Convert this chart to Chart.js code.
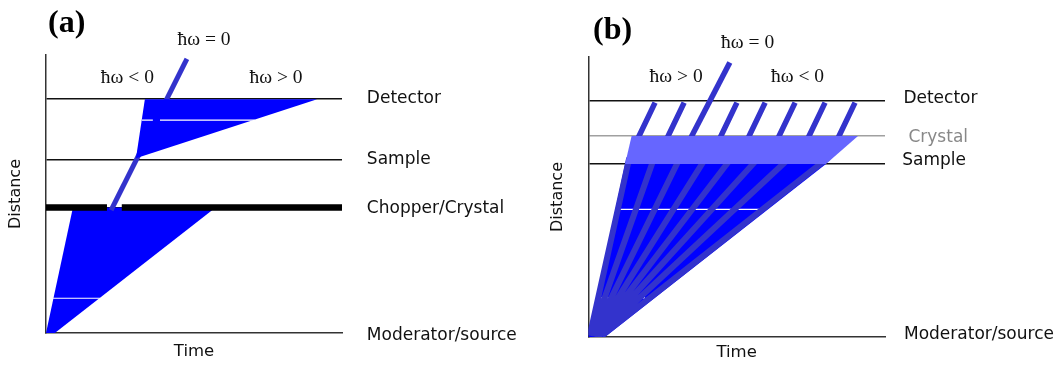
<!DOCTYPE html>
<html>
<head>
<meta charset="utf-8">
<script src="https://cdn.jsdelivr.net/npm/chart.js@4.4.1/dist/chart.umd.min.js"></script>
<style>
  html, body { margin: 0; padding: 0; background: #fff; }
  #wrap { position: relative; width: 1060px; height: 367px; }
  #wrap canvas { position: absolute; top: 0; }
</style>
</head>
<body>
<div id="wrap">
  <canvas id="panelA" width="530" height="367" style="left:0"></canvas>
  <canvas id="panelB" width="530" height="367" style="left:530px"></canvas>
</div>
<script>
// --- shared look ---
const SANS = '"DejaVu Sans"';
const SERIF = '"Liberation Serif"';
const BLUE = '#0000ff';
const RAY = '#3333cc';
const BAND = '#6666ff';

// --- panel (a): direct geometry with a chopper ---
const aLevelNames = ['Moderator/source', 'Chopper/Crystal', 'Sample', 'Detector'];
const aLevels = [0, 4.51, 6.22, 8.41];
// incident pulse, moderator -> chopper
const aPulseT = [0, 0.91, 5.73, 0.30];
const aPulseD = [0, 4.51, 4.51, 0];
// scattered neutrons, sample -> detector
const aScatT = [3.04, 3.34, 9.16];
const aScatD = [6.29, 8.41, 8.41];
// elastic (hw = 0) path through the chopper opening
const aElasticT = [2.20, 4.76];
const aElasticD = [4.42, 9.86];
// chopper disc, open between the two pieces
const aChopperT = [0, 2.06, null, 2.56, 10];
// thin white stripes inside the blue areas
const aStripeLowT = [0.24, 1.82];
const aStripeLowD = 1.25;
const aStripeHighT = [3.24, 3.61, null, 3.85, 7.05];
const aStripeHighD = 7.66;

// --- panel (b): indirect geometry with an analyser crystal ---
const bLevelNames = ['Moderator/source', 'Sample', 'Crystal', 'Detector'];
const bLevels = [0, 6.20, 7.18, 8.43];
// white pulse fanning out from the moderator
const bFanT = [0, 1.24, 8.01, 0.56];
const bFanD = [0, 6.18, 6.18, 0];
const bRayStartT = [0.05, 0.10, 0.15, 0.20, 0.25, 0.30, 0.36, 0.46];
const bRayStartD = 0.05;
const bRayEndT = [1.38, 2.22, 3.09, 3.96, 4.83, 5.74, 6.79, 8.08];
const bRayEndD = 6.4;
// sample -> crystal band
const bBandT = [1.46, 9.09, 8.01, 1.24];
const bBandD = [7.18, 7.18, 6.18, 6.18];
// fixed final energy, crystal -> detector
const bFinalLowT = [1.63, 2.61, 4.39, 5.34, 6.35, 7.36, 8.37];
const bFinalLowD = 7.0;
const bFinalHighT = [2.25, 3.23, 5.01, 5.96, 6.97, 7.98, 8.99];
const bFinalHighD = 8.37;
const bElasticT = [3.40, 4.77];
const bElasticD = [7.0, 9.80];
const bStripeLowT = [0.39, 1.91];
const bStripeLowD = 1.40;
const bStripeHighT = [1.07, 5.78];
const bStripeHighD = 4.56;

// --- helpers ---
function pts(ts, ds) {
  return ts.map((t, i) => t === null
    ? { x: null, y: null }
    : { x: t, y: Array.isArray(ds) ? ds[i] : ds });
}

function poly(ts, ds, color) {
  const p = pts(ts, ds);
  p.push(p[0]);
  return { data: p, fill: 'shape', backgroundColor: color, borderColor: 'transparent', borderWidth: 0 };
}

function stroke(data, color, width) {
  return { data, fill: false, borderColor: color, borderWidth: width };
}

// separate straight segments joined by null gaps
function segments(t0s, d0s, t1s, d1s) {
  const out = [];
  t1s.forEach((t1, i) => {
    const t0 = Array.isArray(t0s) ? t0s[i] : t0s;
    const d0 = Array.isArray(d0s) ? d0s[i] : d0s;
    const d1 = Array.isArray(d1s) ? d1s[i] : d1s;
    out.push({ x: t0, y: d0 }, { x: t1, y: d1 }, { x: null, y: null });
  });
  return out;
}

// text placed in time/distance units
function notes(items) {
  return {
    id: 'notes',
    afterDraw(chart) {
      const { ctx, scales: { x, y } } = chart;
      ctx.save();
      items.forEach(n => {
        ctx.font = n.font;
        ctx.fillStyle = n.color || '#111';
        ctx.textAlign = n.align || 'left';
        ctx.textBaseline = 'alphabetic';
        ctx.fillText(n.text, x.getPixelForValue(n.t), y.getPixelForValue(n.d));
      });
      ctx.restore();
    }
  };
}

function scales(levels, levelColor, dims) {
  return {
    x: {
      type: 'linear', min: 0, max: 10,
      grid: { display: false },
      ticks: { display: false },
      border: { display: true, color: '#333', width: 1.5 },
      title: { display: true, text: 'Time', color: '#111',
               font: { family: SANS, size: 16.5 }, padding: { top: 0, bottom: dims.timePad } },
      afterFit(s) { s.height = dims.bottom; }
    },
    y: {
      type: 'linear', min: 0, max: 10,
      ticks: { display: false },
      afterBuildTicks(s) { s.ticks = levels.slice(1).map(v => ({ value: v })); },
      grid: { drawTicks: false, lineWidth: 1.5, color: c => levelColor(c.index) },
      border: { display: true, color: '#333', width: 1.5 },
      title: { display: true, text: 'Distance', color: '#111',
               font: { family: SANS, size: 16 }, padding: { top: dims.distPad, bottom: 0 } },
      afterFit(s) { s.width = dims.left; }
    }
  };
}

function makePanel(id, layers, levels, levelColor, dims, labels) {
  const n = layers.length;
  layers.forEach((ds, i) => { ds.order = n - i; });
  return new Chart(document.getElementById(id), {
    type: 'line',
    data: { datasets: layers },
    options: {
      responsive: false,
      animation: false,
      devicePixelRatio: 1,
      events: [],
      layout: { padding: { top: dims.top, right: dims.right, left: 0, bottom: 0 } },
      elements: { point: { radius: 0, hoverRadius: 0 }, line: { tension: 0 } },
      plugins: { legend: { display: false }, tooltip: { enabled: false } },
      scales: scales(levels, levelColor, dims)
    },
    plugins: [notes(labels)]
  });
}

const LABEL = '17px ' + SANS;
const HW = '19.5px ' + SERIF;
const TAG = 'bold 32px ' + SERIF;

// --- panel (a) ---
makePanel('panelA', [
  poly(aPulseT, aPulseD, BLUE),
  stroke(pts(aStripeLowT, aStripeLowD), '#fff', 1.2),
  stroke(pts(aElasticT, aElasticD), RAY, 5),
  stroke(pts(aChopperT, aLevels[1]), '#000', 6.5),
  poly(aScatT, aScatD, BLUE),
  stroke(pts(aStripeHighT, aStripeHighD), '#fff', 1.2)
], aLevels, () => '#111',
{ left: 46, bottom: 34, top: 55, right: 188, timePad: 5.4, distPad: 6 },
[
  { text: '(a)', t: 0.07, d: 10.84, font: TAG, color: '#000' },
  { text: 'ħω = 0', t: 5.34, d: 10.36, font: HW, align: 'center' },
  { text: 'ħω < 0', t: 2.75, d: 8.99, font: HW, align: 'center' },
  { text: 'ħω > 0', t: 7.77, d: 8.99, font: HW, align: 'center' },
  { text: aLevelNames[3], t: 10.84, d: 8.26, font: LABEL },
  { text: aLevelNames[2], t: 10.84, d: 6.08, font: LABEL },
  { text: aLevelNames[1], t: 10.84, d: 4.31, font: LABEL },
  { text: aLevelNames[0], t: 10.84, d: -0.25, font: LABEL }
]);

// --- panel (b) ---
makePanel('panelB', [
  poly(bFanT, bFanD, BLUE),
  stroke(pts(bStripeLowT, bStripeLowD), '#fff', 1.2),
  stroke(pts(bStripeHighT, bStripeHighD), '#fff', 1.2),
  stroke(segments(bRayStartT, bRayStartD, bRayEndT, bRayEndD), RAY, 6),
  stroke(segments(bFinalLowT, bFinalLowD, bFinalHighT, bFinalHighD), RAY, 5.5),
  stroke(pts(bElasticT, bElasticD), RAY, 5.5),
  poly(bBandT, bBandD, BAND)
], bLevels, i => (i === 1 ? '#a0a0a0' : '#111'),
{ left: 58.3, bottom: 30, top: 57, right: 175, timePad: 4.4, distPad: 17.9 },
[
  { text: '(b)', t: 0.16, d: 10.63, font: TAG, color: '#000' },
  { text: 'ħω = 0', t: 5.37, d: 10.31, font: HW, align: 'center' },
  { text: 'ħω > 0', t: 2.96, d: 9.12, font: HW, align: 'center' },
  { text: 'ħω < 0', t: 7.05, d: 9.12, font: HW, align: 'center' },
  { text: bLevelNames[3], t: 10.62, d: 8.37, font: LABEL },
  { text: bLevelNames[2], t: 10.79, d: 6.97, font: LABEL, color: '#888' },
  { text: bLevelNames[1], t: 10.58, d: 6.14, font: LABEL },
  { text: bLevelNames[0], t: 10.64, d: -0.08, font: LABEL }
]);
</script>
</body>
</html>
